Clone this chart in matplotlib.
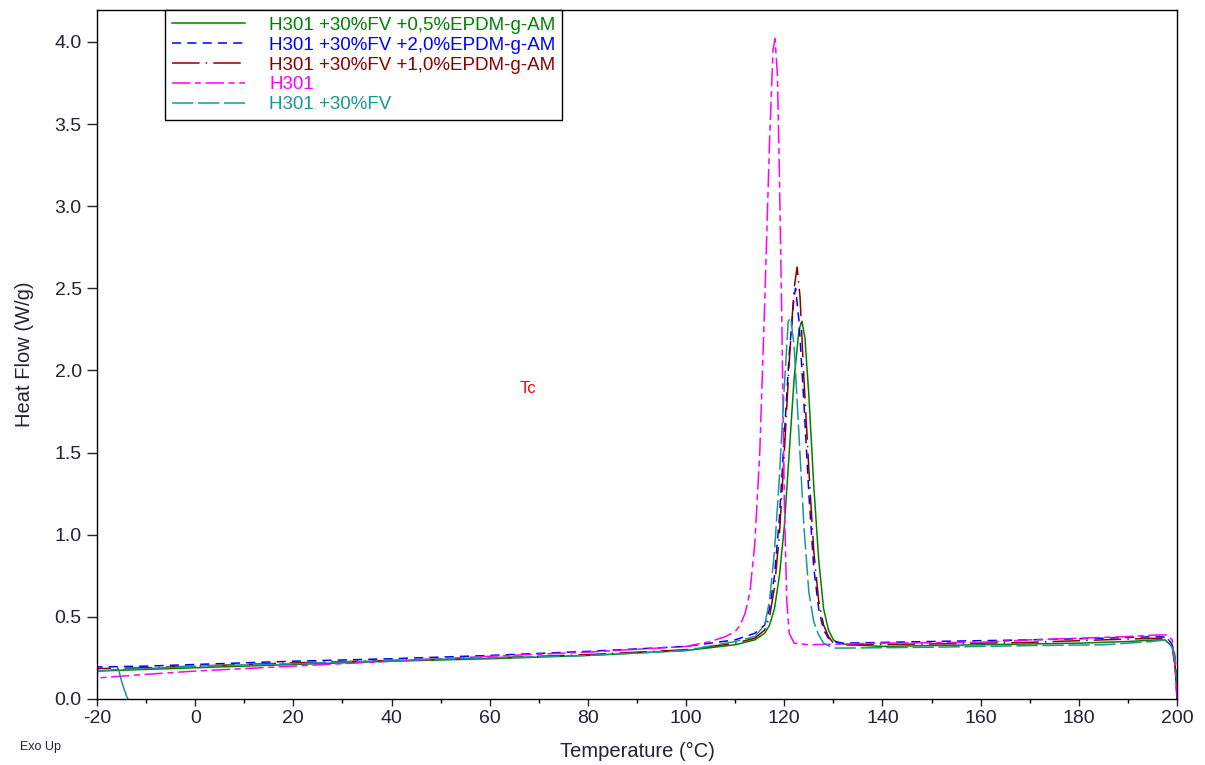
import matplotlib
matplotlib.use("Agg")
import matplotlib.pyplot as plt

plt.rcParams['font.family'] = ['Liberation Sans', 'DejaVu Sans']
plt.rcParams['axes.unicode_minus'] = False

# DSC cooling curves, temperature (°C) vs heat flow (W/g)
t_green = [-20, -19.9, -10, 0, 20, 40, 60, 80, 100, 110, 114, 116, 117, 118, 119, 120, 121, 122, 123,
           123.6, 124.2, 125, 126, 127, 128, 129, 130, 131, 133, 140, 160, 180, 190, 196, 197.5, 199, 199.6, 200]
hf_green = [0.11, 0.17, 0.18, 0.19, 0.21, 0.23, 0.245, 0.265, 0.295, 0.33, 0.36, 0.40, 0.45, 0.55, 0.75, 1.05, 1.5, 1.95, 2.25,
            2.30, 2.2, 1.85, 1.3, 0.85, 0.55, 0.42, 0.36, 0.34, 0.33, 0.32, 0.33, 0.34, 0.35, 0.36, 0.36, 0.32, 0.2, 0.02]

t_blue = [-20, -19.9, -10, 0, 20, 40, 60, 80, 100, 110, 114, 116, 117, 118, 119, 120, 121, 122, 122.3,
          123, 124, 125, 126, 127, 128, 129, 130, 132, 150, 170, 185, 196, 198, 199, 199.6, 200]
hf_blue = [0.17, 0.195, 0.20, 0.21, 0.23, 0.245, 0.265, 0.29, 0.32, 0.36, 0.40, 0.45, 0.55, 0.75, 1.1, 1.6, 2.1, 2.45, 2.50,
           2.3, 1.8, 1.25, 0.8, 0.55, 0.42, 0.37, 0.35, 0.34, 0.35, 0.36, 0.37, 0.38, 0.375, 0.33, 0.25, 0.05]

t_red = [-20, -19.9, -10, 0, 20, 40, 60, 80, 100, 110, 114, 116, 117, 118, 119, 120, 121, 122, 122.6,
         123.2, 124, 125, 126, 127, 128, 129, 130, 132, 150, 170, 185, 196, 198, 199, 199.6, 200]
hf_red = [0.10, 0.185, 0.19, 0.20, 0.22, 0.235, 0.25, 0.27, 0.30, 0.34, 0.37, 0.42, 0.50, 0.68, 1.0, 1.5, 2.05, 2.5, 2.63,
          2.45, 1.95, 1.4, 0.9, 0.6, 0.45, 0.38, 0.34, 0.33, 0.335, 0.345, 0.36, 0.37, 0.37, 0.33, 0.2, 0.0]

t_h301 = [-20, -19.9, -19, -10, 0, 20, 40, 60, 80, 100, 105, 108, 110, 111, 112, 113, 114, 115, 116, 117,
          117.7, 118.1, 118.6, 119, 119.5, 120, 120.5, 121, 122, 125, 140, 160, 170, 180, 190, 196, 198, 199, 199.6, 200]
hf_h301 = [0.0, 0.12, 0.13, 0.15, 0.17, 0.20, 0.23, 0.26, 0.285, 0.32, 0.35, 0.38, 0.41, 0.45, 0.52, 0.65, 0.95, 1.5, 2.4, 3.4,
           3.95, 4.02, 3.8, 3.2, 2.3, 1.2, 0.6, 0.4, 0.34, 0.33, 0.34, 0.345, 0.36, 0.37, 0.38, 0.39, 0.39, 0.36, 0.2, 0.0]

t_teal = [-20, -15.6, -10, 0, 20, 40, 60, 80, 100, 110, 114, 116, 117, 118, 119, 120, 120.8, 121.3,
          122, 123, 124, 125, 126, 127, 128, 130, 132, 150, 170, 185, 195, 197.5, 198.5, 199.5, 200]
hf_teal = [0.17, 0.18, 0.185, 0.20, 0.215, 0.235, 0.25, 0.265, 0.295, 0.35, 0.38, 0.45, 0.6, 0.9, 1.35, 1.9, 2.3, 2.32,
           2.15, 1.6, 1.05, 0.65, 0.47, 0.39, 0.34, 0.31, 0.31, 0.315, 0.325, 0.33, 0.35, 0.36, 0.34, 0.28, 0.1]
# start-up hook of the teal run near -15 °C
t_teal_hook = [-15.6, -15.2, -14.6, -14.0, -13.7]
hf_teal_hook = [0.18, 0.13, 0.07, 0.02, 0.0]

labels = ['H301 +30%FV +0,5%EPDM-g-AM', 'H301 +30%FV +2,0%EPDM-g-AM',
          'H301 +30%FV +1,0%EPDM-g-AM', 'H301', 'H301 +30%FV']

fig = plt.figure(figsize=(12.05, 7.65), dpi=100)
ax = fig.add_axes([0.0805, 0.0863, 0.8963, 0.9007])

c_green, c_blue, c_red, c_mag, c_teal = '#008000', '#0000ff', '#8b0000', '#ff00ff', '#1a9696'
lw = 1.1
l1, = ax.plot(t_green, hf_green, color=c_green, lw=lw, label=labels[0])
l2, = ax.plot(t_blue, hf_blue, color=c_blue, lw=lw, dashes=(6, 4), label=labels[1])
l3, = ax.plot(t_red, hf_red, color=c_red, lw=lw, dashes=(18, 4, 1, 4), label=labels[2])
l4, = ax.plot(t_h301, hf_h301, color=c_mag, lw=lw, dashes=(12, 3, 4, 3), label=labels[3])
l5, = ax.plot(t_teal, hf_teal, color=c_teal, lw=lw, dashes=(14, 3), label=labels[4])
ax.plot(t_teal_hook, hf_teal_hook, color=c_teal, lw=lw)

ax.set_xlim(-20, 200)
ax.set_ylim(0, 4.195)
ax.set_xticks(range(-20, 201, 20))
ax.set_xticks(range(-10, 200, 20), minor=True)
ax.set_yticks([0.0, 0.5, 1.0, 1.5, 2.0, 2.5, 3.0, 3.5, 4.0])
ax.set_yticklabels(['0.0', '0.5', '1.0', '1.5', '2.0', '2.5', '3.0', '3.5', '4.0'])
ax.tick_params(axis='x', which='major', direction='out', length=5, width=1, labelsize=14, pad=3, colors='#222233')
ax.tick_params(axis='x', which='minor', direction='out', length=3, width=1)
ax.tick_params(axis='y', which='major', direction='out', length=7, width=1, labelsize=14, pad=4, colors='#222233')
for s in ax.spines.values():
    s.set_linewidth(1.0)
    s.set_color('black')

ax.set_xlabel('Temperature (°C)', fontsize=14.5, color='#222233', labelpad=11)
ax.set_ylabel('Heat Flow (W/g)', fontsize=14.5, color='#222233', labelpad=15)

ax.text(67.8, 1.89, 'Tc', color='red', fontsize=12, ha='center', va='center')
fig.text(0.017, 0.023, 'Exo Up', fontsize=9, color='#222233', ha='left', va='center')

leg = ax.legend(handles=[l1, l2, l3, l4, l5], loc='upper left',
                bbox_to_anchor=(68 / 1080, 1.0), fontsize=13.5, frameon=True, fancybox=False,
                edgecolor='black', framealpha=1, handlelength=3.9, handletextpad=1.3,
                labelspacing=0.15, borderpad=0.35, borderaxespad=0)
leg.get_frame().set_linewidth(1.0)
for txt, col in zip(leg.get_texts(), [c_green, c_blue, c_red, c_mag, c_teal]):
    txt.set_color(col)

fig.savefig('out.png', dpi=100)
